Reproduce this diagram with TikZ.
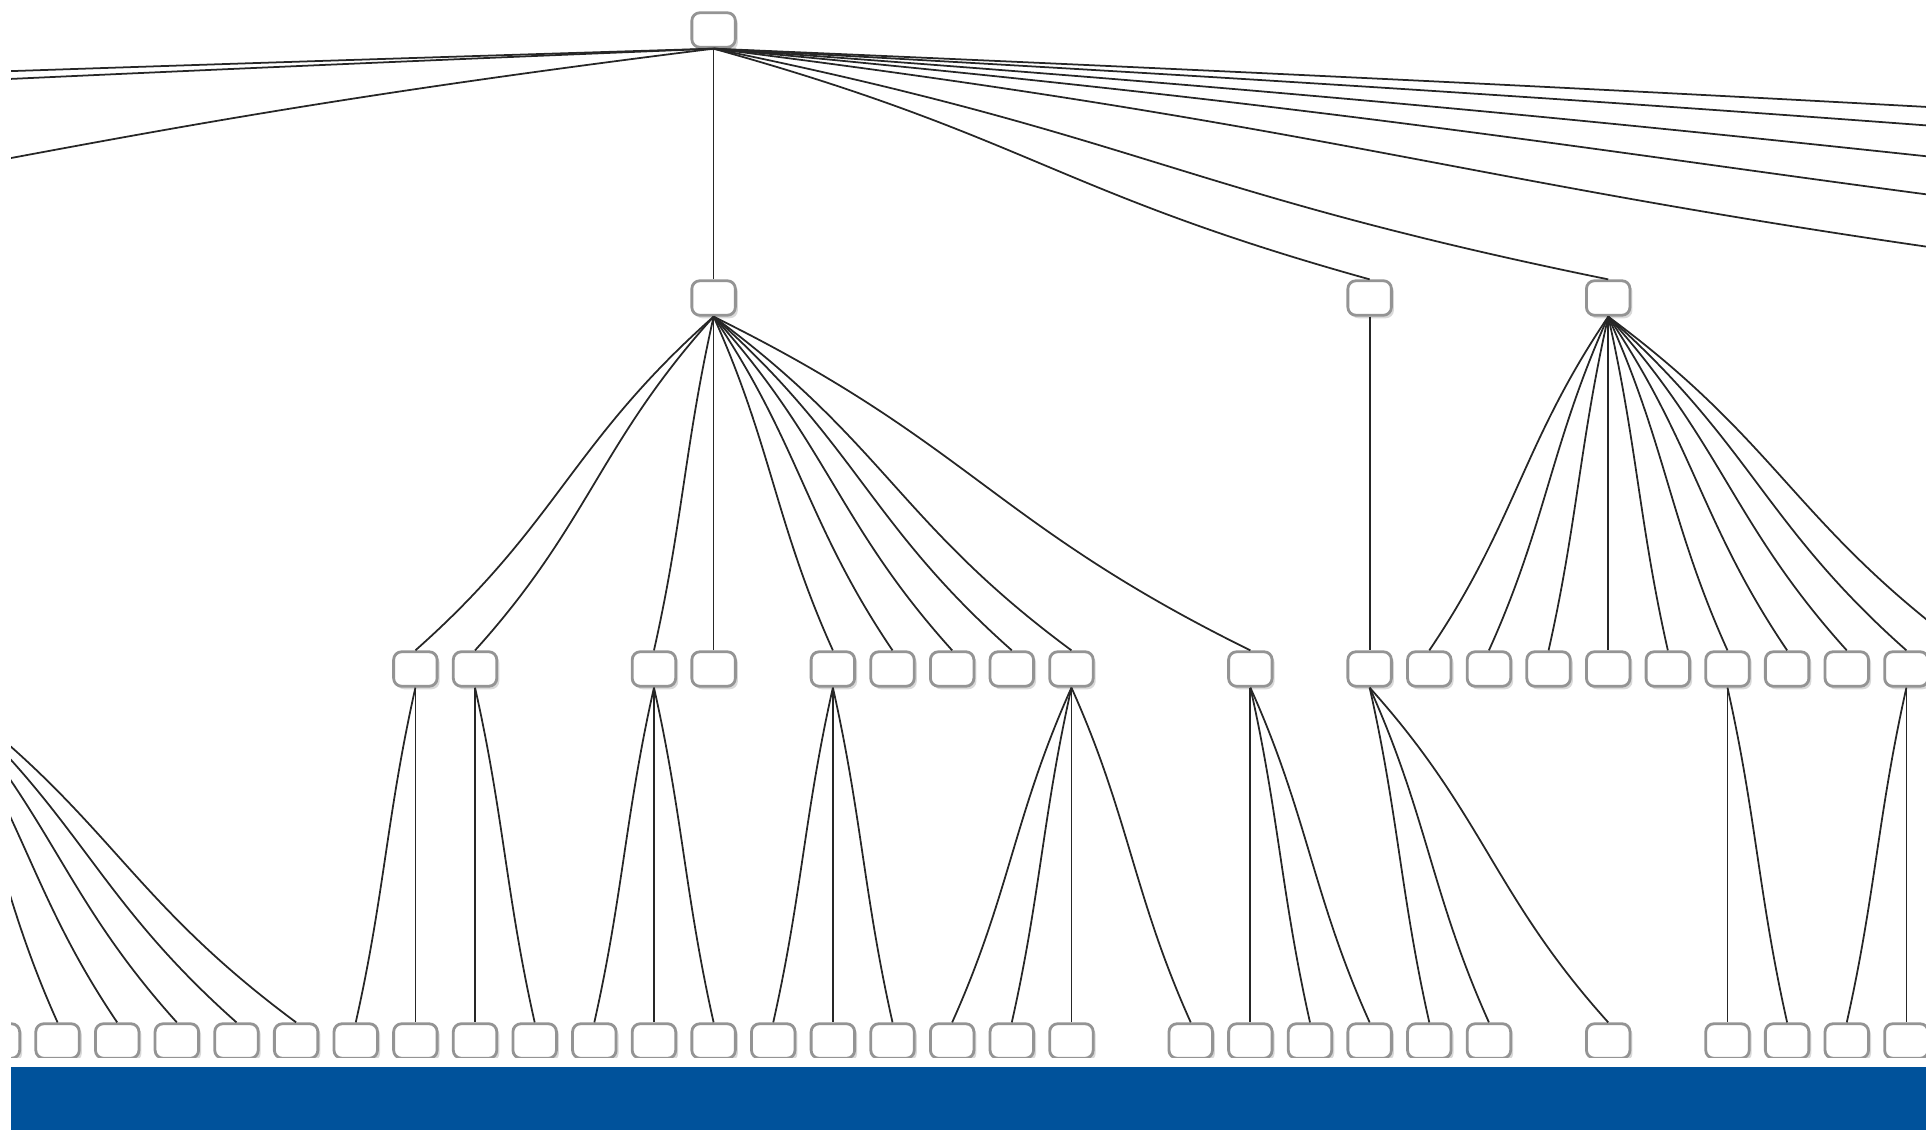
\documentclass[tikz,border=0pt]{standalone}
\usetikzlibrary{calc, shadows}
\usepackage{xcolor}
\definecolor{barblue}{RGB}{0,82,155}
\def\colsep{59.64}
\def\xo{-61.72}
\def\rowR{30}
\def\rowA{298}
\def\rowB{669}
\def\rowC{1041}

\begin{document}
\begin{tikzpicture}[x=0.1mm, y=-0.1mm]
    \tikzstyle{box}=[rectangle, rounded corners=0.8mm, draw=black!42, line width=0.8pt, fill=white,
        minimum width=4.35mm, minimum height=3.45mm, inner sep=0pt,
        drop shadow={shadow xshift=0.25mm, shadow yshift=-0.3mm, opacity=0.3}]
    % smooth s-shaped link, leaving and entering a bit flatter than the chord
    \tikzstyle{wire}=[to path={let \p1=(\tikztostart), \p2=(\tikztotarget) in
        .. controls ({\x1+0.48*(\x2-\x1)},{\y1+0.38*(\y2-\y1)})
        and ({\x2-0.48*(\x2-\x1)},{\y2-0.38*(\y2-\y1)}) .. (\tikztotarget)}]
    \tikzstyle{link}=[wire, draw=black!85, line width=0.5pt]

    \useasboundingbox (0,0) rectangle (1926,1130);
    \fill[barblue] (11,1067) rectangle (1926,1130);

    \begin{scope}
    \clip (11,0) rectangle (1926,1057);

    % Draw the top node
    \node[box] (R) at ({\xo+13*\colsep},\rowR) {};

    % Draw the first row
    \foreach \c in {13,24,28}
        \node[box] (A-\c) at ({\xo+\c*\colsep},\rowA) {};

    % Draw the second row
    \foreach \c in {8,9,12,13,15,16,17,18,19,22,24,25,26,27,28,29,30,31,32,33}
        \node[box] (B-\c) at ({\xo+\c*\colsep},\rowB) {};

    % Draw the third row
    \foreach \c in {1,...,19,21,22,23,24,25,26,28,30,31,32,33}
        \node[box] (C-\c) at ({\xo+\c*\colsep},\rowC) {};

    % top node to the first row, some of them lie past the edges
    \foreach \dest in {13,24,28}
        \path (R.south) edge[link] (A-\dest.north);
    \foreach \x [count=\i] in {-5300,-3826,-759,2174,2700,3290,4128,5040} {
        \coordinate (A-far\i) at (\x,280);
        \path (R.south) edge[link] (A-far\i);
    }

    % first row to the second row
    \foreach \dest in {8,9,12,13,15,16,17,18,19,22}
        \path (A-13.south) edge[link] (B-\dest.north);
    \path (A-24.south) edge[link] (B-24.north);
    \foreach \dest in {25,...,33}
        \path (A-28.south) edge[link] (B-\dest.north);
    \coordinate (B-34) at ({\xo+34*\colsep},650);
    \path (A-28.south) edge[link] (B-34);

    % second row to the third row
    \coordinate (B-0) at (\xo,688);
    \foreach \dest in {2,...,6}
        \path (B-0) edge[link] (C-\dest.north);
    \foreach \source/\dest in {8/7,8/8,9/9,9/10,12/11,12/12,12/13,15/14,15/15,15/16,
            19/17,19/18,19/19,19/21,22/22,22/23,22/24,24/25,24/26,24/28,30/30,30/31,33/32,33/33}
        \path (B-\source.south) edge[link] (C-\dest.north);
    \end{scope}
\end{tikzpicture}
\end{document}
